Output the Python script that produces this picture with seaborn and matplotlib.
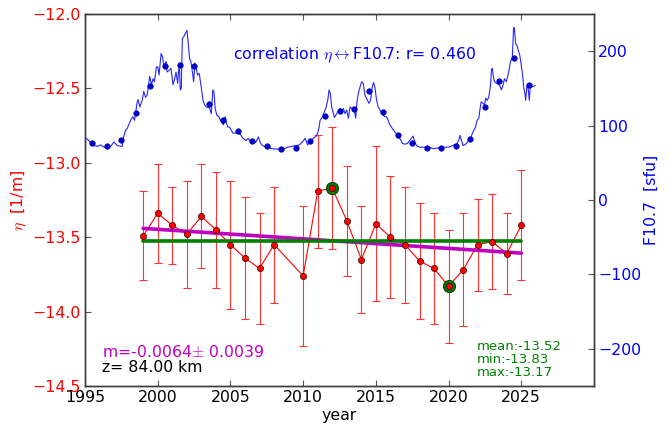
import numpy as np
import matplotlib
matplotlib.use("Agg")
import matplotlib.pyplot as plt
import seaborn as sns

# --- mesospheric eta at z = 84 km, yearly means with uncertainties ---
years = [1999, 2000, 2001, 2002, 2003, 2004, 2005, 2006, 2007, 2008, 2010,
         2011, 2012, 2013, 2014, 2015, 2016, 2017, 2018, 2019, 2020, 2021,
         2022, 2023, 2024, 2025]
eta = [-13.49, -13.34, -13.42, -13.48, -13.36, -13.45, -13.55, -13.64, -13.71,
       -13.55, -13.76, -13.19, -13.17, -13.39, -13.65, -13.41, -13.50, -13.55,
       -13.66, -13.71, -13.83, -13.72, -13.55, -13.53, -13.61, -13.42]
eta_err = [0.30, 0.33, 0.26, 0.36, 0.35, 0.39, 0.43, 0.41, 0.37, 0.39, 0.47,
           0.38, 0.41, 0.37, 0.36, 0.52, 0.41, 0.39, 0.39, 0.37, 0.38, 0.38,
           0.31, 0.32, 0.27, 0.37]
trend_slope = -0.0064
trend_slope_err = 0.0039
altitude_km = 84.00
corr_r = 0.460

# --- solar F10.7 flux: annual means and smoothed series ---
f107_years = [1995.5, 1996.5, 1997.5, 1998.5, 1999.5, 2000.5, 2001.5, 2002.5,
              2003.5, 2004.5, 2005.5, 2006.5, 2007.5, 2008.5, 2009.5, 2010.5,
              2011.5, 2012.5, 2013.5, 2014.5, 2015.5, 2016.5, 2017.5, 2018.5,
              2019.5, 2020.5, 2021.5, 2022.5, 2023.5, 2024.5, 2025.5]
f107_annual = [76, 72, 81, 117, 153, 180, 182, 180, 129, 107, 93, 79, 73, 69,
               70, 79, 113, 120, 122, 146, 118, 88, 77, 70, 70, 73, 82, 125,
               160, 191, 155]
f107_t = [1994.93, 1995.21, 1995.50, 1995.85, 1996.07, 1996.49, 1996.76, 1996.99, 1997.22, 1997.56,
          1997.63, 1997.79, 1997.90, 1998.13, 1998.29, 1998.40, 1998.59, 1998.65, 1998.77, 1998.93,
          1999.04, 1999.16, 1999.27, 1999.45, 1999.57, 1999.68, 1999.77, 1999.91, 2000.00, 2000.09,
          2000.23, 2000.32, 2000.41, 2000.59, 2000.64, 2000.82, 2000.91, 2001.05, 2001.14, 2001.26,
          2001.37, 2001.48, 2001.55, 2001.62, 2001.69, 2001.78, 2001.90, 2002.01, 2002.08, 2002.19,
          2002.28, 2002.35, 2002.47, 2002.56, 2002.65, 2002.74, 2002.86, 2002.92, 2002.99, 2003.11,
          2003.22, 2003.33, 2003.56, 2003.68, 2003.79, 2003.86, 2003.95, 2004.06, 2004.20, 2004.32,
          2004.52, 2004.64, 2004.70, 2004.82, 2004.93, 2005.05, 2005.16, 2005.57, 2005.73, 2005.85,
          2006.07, 2006.23, 2006.30, 2006.60, 2006.76, 2006.92, 2007.03, 2007.15, 2007.33, 2007.56,
          2007.79, 2008.59, 2008.93, 2009.73, 2009.95, 2010.14, 2010.30, 2010.64, 2010.75, 2010.91,
          2011.00, 2011.10, 2011.16, 2011.28, 2011.55, 2011.69, 2011.78, 2011.87, 2011.96, 2012.08,
          2012.15, 2012.24, 2012.53, 2012.65, 2012.76, 2012.88, 2012.99, 2013.11, 2013.22, 2013.52,
          2013.61, 2013.70, 2013.79, 2013.91, 2014.02, 2014.13, 2014.25, 2014.52, 2014.63, 2014.75,
          2014.84, 2014.93, 2015.05, 2015.16, 2015.50, 2015.62, 2015.73, 2015.85, 2015.96, 2016.07,
          2016.53, 2016.71, 2016.83, 2016.99, 2017.17, 2017.56, 2017.63, 2017.79, 2018.01, 2018.70,
          2018.93, 2019.68, 2020.02, 2020.59, 2020.71, 2020.78, 2020.87, 2021.00, 2021.23, 2021.55,
          2021.69, 2021.85, 2021.96, 2022.08, 2022.15, 2022.24, 2022.47, 2022.56, 2022.65, 2022.76,
          2022.88, 2022.95, 2023.01, 2023.06, 2023.15, 2023.52, 2023.63, 2023.74, 2023.84, 2023.97,
          2024.06, 2024.16, 2024.25, 2024.38, 2024.47, 2024.52, 2024.61, 2024.70, 2024.82, 2024.89,
          2024.98, 2025.09, 2025.16, 2025.25, 2025.30, 2025.39, 2025.46, 2025.55, 2025.62, 2025.73,
          2025.96]
f107_v = [85, 81, 74, 72, 74, 69, 72, 78, 73, 72,
          83, 94, 96, 107, 112, 107, 132, 135, 125, 134,
          146, 138, 141, 166, 155, 163, 159, 179, 179, 168,
          197, 193, 181, 186, 172, 175, 177, 155, 161, 172,
          157, 184, 148, 150, 217, 219, 224, 228, 215, 190,
          186, 177, 159, 184, 177, 168, 170, 161, 152, 134,
          128, 125, 124, 116, 148, 146, 123, 114, 112, 107,
          101, 112, 105, 98, 98, 94, 90, 90, 87, 83,
          80, 83, 80, 76, 78, 85, 78, 74, 72, 73,
          69, 68, 71, 74, 78, 83, 74, 82, 84, 86,
          90, 98, 107, 110, 123, 134, 148, 143, 125, 116,
          111, 114, 123, 119, 123, 116, 121, 110, 125, 121,
          110, 132, 143, 152, 159, 157, 141, 130, 134, 152,
          158, 152, 134, 125, 114, 112, 112, 107, 101, 98,
          85, 81, 76, 75, 76, 86, 81, 73, 71, 71,
          69, 71, 71, 76, 81, 87, 81, 73, 76, 85,
          92, 98, 107, 110, 121, 132, 128, 137, 134, 138,
          154, 175, 177, 168, 159, 154, 148, 154, 163, 159,
          166, 175, 186, 191, 232, 231, 210, 208, 199, 195,
          184, 168, 152, 143, 134, 154, 152, 134, 154, 152,
          154]

sns.set_theme(style="white")
plt.rcParams.update({
    "font.family": ["DejaVu Sans"],
    "mathtext.fontset": "cm",
    "axes.unicode_minus": True,
    "axes.edgecolor": "#3a3a3a",
    "axes.linewidth": 1.0,
    "xtick.direction": "in",
    "ytick.direction": "in",
    "xtick.color": "#555555",
    "ytick.color": "#555555",
    "xtick.major.size": 4,
    "ytick.major.size": 4,
    "xtick.major.width": 0.8,
    "ytick.major.width": 0.8,
})

FS = 11.3
MAGENTA = "#bf00bf"
GREEN = "#008000"
years_a = np.asarray(years, dtype=float)
eta_a = np.asarray(eta)
eta_mean = eta_a.mean()
i_max, i_min = int(eta_a.argmax()), int(eta_a.argmin())
trend = eta_mean + trend_slope * (years_a - years_a.mean())

fig = plt.figure(figsize=(6.7, 4.26), dpi=100)
ax = fig.add_axes([0.1269, 0.0939, 0.7597, 0.8732])
ax2 = ax.twinx()

# eta series with error bars
ax.errorbar(years, eta, yerr=eta_err, fmt="none", ecolor="#ff3333",
            elinewidth=0.8, capsize=3, capthick=0.8, zorder=2)
sns.lineplot(x=years, y=eta, ax=ax, color="#ff0000", lw=0.8, estimator=None, zorder=3)
sns.lineplot(x=years_a, y=trend, ax=ax, color=MAGENTA, lw=2.6, estimator=None, zorder=4)
sns.lineplot(x=[years[0], years[-1]], y=[eta_mean, eta_mean], ax=ax,
             color=GREEN, lw=2.6, estimator=None, zorder=5)
sns.scatterplot(x=[years[i_max], years[i_min]], y=[eta[i_max], eta[i_min]], ax=ax,
                color=GREEN, s=75, edgecolor="#0b3d0b", linewidth=0.8, zorder=6)
sns.scatterplot(x=years, y=eta, ax=ax, color="#ff0000", s=20, edgecolor="#400000",
                linewidth=0.5, zorder=7)

# solar flux on the right axis
sns.lineplot(x=f107_t, y=f107_v, ax=ax2, color="#0000ff", lw=0.8, estimator=None,
             sort=False, alpha=0.85)
sns.scatterplot(x=f107_years, y=f107_annual, ax=ax2, color="#0000cc", s=16,
                edgecolor="#0000aa", linewidth=0.4, zorder=5)

ax.set_xlim(1995, 2030)
ax.set_ylim(-14.5, -12.0)
ax2.set_ylim(-250, 250)
ax.set_xticks([1995, 2000, 2005, 2010, 2015, 2020, 2025])
ax.set_yticks([-14.5, -14.0, -13.5, -13.0, -12.5, -12.0])
ax2.set_yticks([-200, -100, 0, 100, 200])

ax.tick_params(axis="x", top=True, bottom=True, labelsize=FS, labelcolor="black", pad=3)
ax.tick_params(axis="y", left=True, labelsize=FS, labelcolor="#ff0000", pad=3)
ax2.tick_params(axis="y", right=True, labelsize=FS, labelcolor="#0000ff", pad=3)
ax.yaxis.set_major_formatter(
    matplotlib.ticker.FuncFormatter(lambda v, _: ("%.1f" % v).replace("-", "\u2212")))

ax.set_xlabel("year", fontsize=FS, color="black")
ax.xaxis.set_label_coords(0.5, -0.06)
ax.set_ylabel(r"$\eta$  [1/m]", fontsize=FS, color="#ff0000")
ax.yaxis.set_label_coords(-0.111, 0.5)
ax2.set_ylabel("F10.7  [sfu]", fontsize=FS, color="#0000ff")
ax2.yaxis.set_label_coords(1.098, 0.5)

ax2.text(0.291, 0.89, r"correlation $\eta\leftrightarrow$F10.7: r= %.3f" % corr_r,
         transform=ax.transAxes, color="#0000ff", fontsize=FS, va="center", ha="left")
ax.text(0.033, 0.091, r"m=%.4f$\pm$ %.4f" % (trend_slope, trend_slope_err),
        transform=ax.transAxes, color=MAGENTA, fontsize=FS, va="center", ha="left")
ax.text(0.033, 0.051, "z= %.2f km" % altitude_km, transform=ax.transAxes,
        color="black", fontsize=FS, va="center", ha="left")
for k, (lab, val) in enumerate([("mean", eta_mean), ("min", eta_a.min()), ("max", eta_a.max())]):
    ax.text(0.77, 0.105 - 0.035 * k, "%s:%.2f" % (lab, val), transform=ax.transAxes,
            color=GREEN, fontsize=9.5, va="center", ha="left")

for a in (ax, ax2):
    for s in a.spines.values():
        s.set_color("#3a3a3a")
        s.set_linewidth(1.0)

fig.savefig("out.png", dpi=100)
